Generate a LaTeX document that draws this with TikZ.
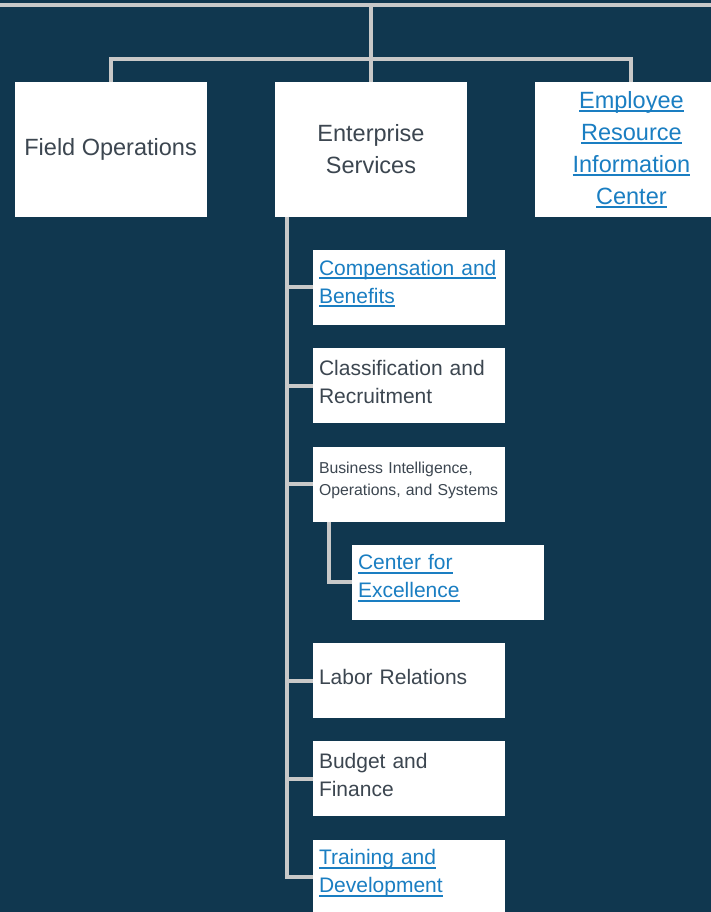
\documentclass[tikz,border=0pt]{standalone}
\usepackage{fontspec}
\setmainfont{Liberation Sans}
\usetikzlibrary{math}
\usetikzlibrary{positioning}
\usepackage{xcolor}

\definecolor{navy}{HTML}{10374F}
\definecolor{linkgrey}{HTML}{C8C8C8}
\definecolor{boxtext}{HTML}{3C4650}
\definecolor{linkblue}{HTML}{1A7EC2}

\newcommand{\linkline}[1]{\leavevmode\setbox0=\hbox{#1}\rlap{\rule[-4pt]{\wd0}{1.8pt}}\box0}

\begin{document}
\begin{tikzpicture}[x=1pt,y=-1pt]

\tikzmath{
	\W = 192;
	\H = 75;
}

\tikzset{
  topbox/.style={
    fill=white, text=boxtext,
    minimum width=\W pt, minimum height=134pt,
    align=center, inner sep=0pt,
    font=\fontsize{23.5}{32}\selectfont
  },
  subbox/.style={
    fill=white, text=boxtext,
    minimum width=\W pt, minimum height=\H pt,
    text width=180pt, inner xsep=6pt, inner ysep=0pt,
    align=left,
    font=\fontsize{21}{28}\selectfont,
    execute at end node={\par\vspace{8pt}}
  },
  smalltext/.style={font=\fontsize{15.8}{22}\selectfont},
  weblink/.style={text=linkblue},
  tie/.style={draw=linkgrey, line width=4pt},
  node distance=22.9pt
}

\useasboundingbox[fill=navy] (0,0) rectangle (711,912);

% top row
\node[topbox] (es) at (371,149.5) {Enterprise\\Services};
\node[topbox, left=68pt of es] (fo) {Field Operations};
\node[topbox, weblink, right=68pt of es] (eric)
  {\linkline{Employee}\\\linkline{Resource}\\\linkline{Information}\\\linkline{Center}};

% units under Enterprise Services
\node[subbox, weblink, below=33pt of es, xshift=38pt] (comp)
  {\linkline{Compensation and}\\\linkline{Benefits}};
\node[subbox, below=of comp] (class) {Classification and\\Recruitment};
\node[subbox, smalltext, below=of class] (bi)
  {\mbox{Business Intelligence,}\\\mbox{Operations, and Systems}};
\node[subbox, weblink, below=of bi, xshift=39pt] (cfe)
  {\linkline{Center for}\\\linkline{Excellence}};
\node[subbox, below=of cfe, xshift=-39pt] (labor) {Labor Relations};
\node[subbox, below=of labor] (budget) {Budget and\\Finance};
\node[subbox, weblink, below=of budget] (train)
  {\linkline{Training and}\\\linkline{Development}};

% connectors
\coordinate (rootL) at (0,5);
\coordinate (rootR) at (711,5);
\coordinate (root) at (371,5);
\coordinate (bar) at (371,59);
\coordinate (spine) at ([xshift=12pt]es.south west);
\coordinate (subspine) at ([xshift=16pt]bi.south west);

\draw[tie] (rootL) -- (rootR);
\draw[tie] (root) -- (es.north);
\draw[tie] (fo.north) |- (bar) -| (eric.north);

\draw[tie] (spine) |- (train.west);
\foreach \u in {comp,class,bi,labor,budget}
  \draw[tie] (spine |- \u.west) -- (\u.west);
\draw[tie] (subspine) |- (cfe.west);

\end{tikzpicture}
\end{document}
